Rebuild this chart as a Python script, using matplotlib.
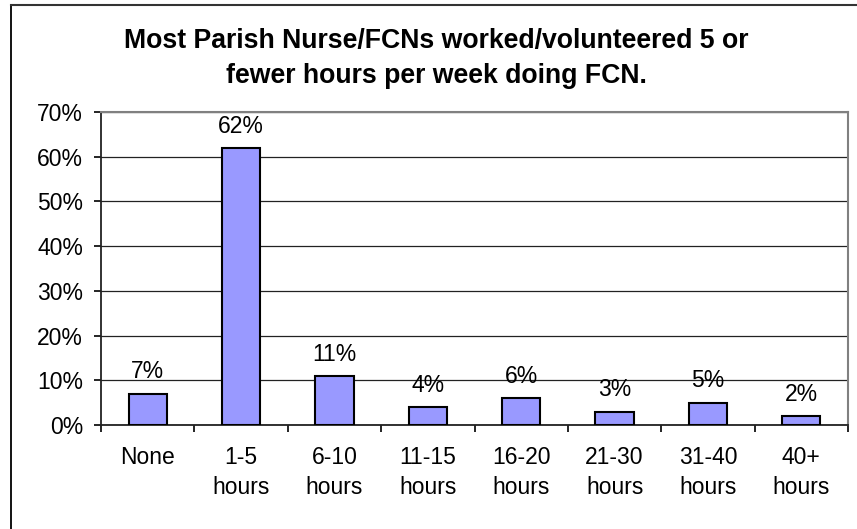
import matplotlib
matplotlib.use("Agg")
import matplotlib.pyplot as plt
from matplotlib.lines import Line2D
from matplotlib.ticker import FuncFormatter, FixedLocator

categories = ["None", "1-5\nhours", "6-10\nhours", "11-15\nhours", "16-20\nhours",
              "21-30\nhours", "31-40\nhours", "40+\nhours"]
values = [7, 62, 11, 4, 6, 3, 5, 2]
yticks = [0, 10, 20, 30, 40, 50, 60, 70]
title_lines = ["Most Parish Nurse/FCNs worked/volunteered 5 or",
               "fewer hours per week doing FCN."]

plt.rcParams['font.family'] = ['Liberation Sans', 'DejaVu Sans']

W, H = 857, 529
fig = plt.figure(figsize=(W / 100, H / 100), dpi=100)
fig.patch.set_facecolor('white')
# outer chart frame (only left and top edges visible)
fig.lines.append(Line2D([10.5 / W, 10.5 / W], [0, 1 - 5 / H], transform=fig.transFigure,
                        color='black', linewidth=1.3))
fig.lines.append(Line2D([10.5 / W, 1], [1 - 5 / H, 1 - 5 / H], transform=fig.transFigure,
                        color='#333333', linewidth=1.5))

ax = fig.add_axes([101 / W, 1 - 425 / H, (848 - 101) / W, (425 - 112) / H])
x = list(range(len(categories)))
ax.bar(x, values, width=0.41, color='#9999FF', edgecolor='black', linewidth=1.5, zorder=3)
for xi, v in zip(x, values):
    ax.text(xi, v + 3.4, f"{v}%", ha='center', va='baseline', fontsize=16.5)

ax.set_xlim(-0.5, len(categories) - 0.5)
ax.set_ylim(0, 70)
ax.set_yticks(yticks)
ax.yaxis.set_major_formatter(FuncFormatter(lambda v, p: f"{int(v)}%"))
ax.yaxis.grid(True, color='#222222', linewidth=0.9, zorder=0)
ax.set_xticks([i + 0.5 for i in range(-1, len(categories))])
ax.set_xticklabels([])
ax.xaxis.set_minor_locator(FixedLocator(x))
ax.set_xticklabels(categories, minor=True, fontsize=16.5, linespacing=1.39)
ax.tick_params(axis='x', which='minor', length=0, pad=15)
ax.tick_params(axis='x', which='major', direction='out', length=5, width=1.2)
ax.tick_params(axis='y', direction='out', length=5, width=1.2, labelsize=16.5, pad=8)
for s in ['top', 'right']:
    ax.spines[s].set_color('#808080')
    ax.spines[s].set_linewidth(1.5)
for s in ['left', 'bottom']:
    ax.spines[s].set_color('#222222')
    ax.spines[s].set_linewidth(1.3)

for line, base in zip(title_lines, [48, 83]):
    fig.text(436 / W, 1 - base / H, line, ha='center', va='baseline', fontsize=19.2,
             fontweight='bold')

fig.savefig("out.png", dpi=100)
